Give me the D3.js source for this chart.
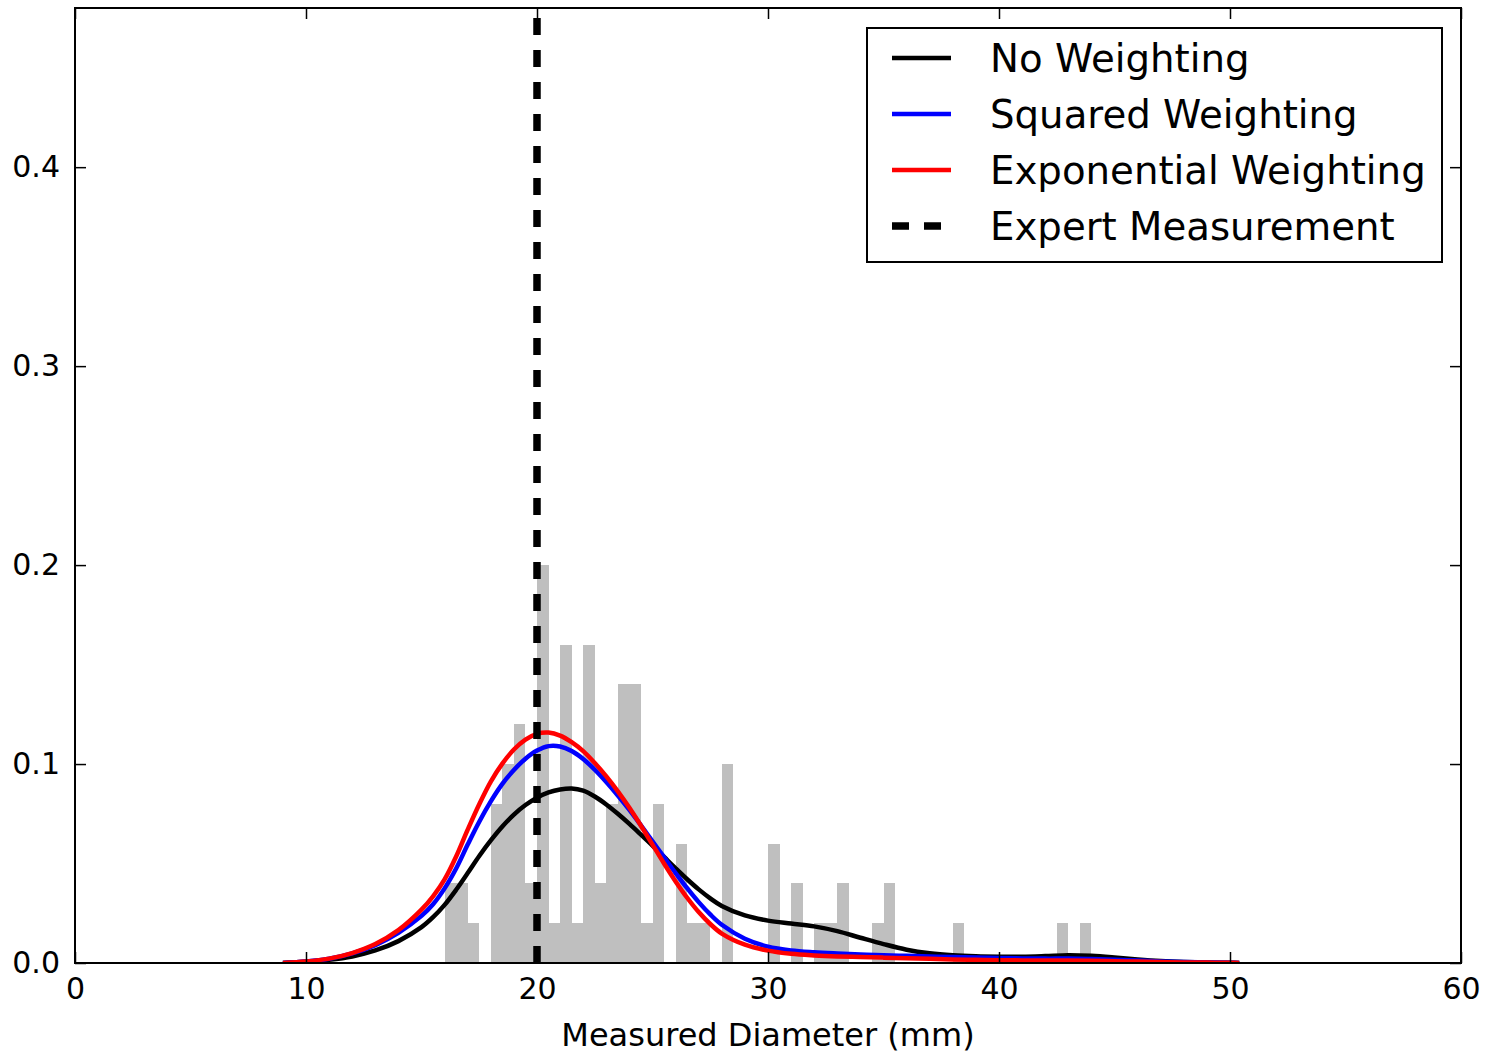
<!DOCTYPE html>
<meta charset="utf-8">
<style>
body {
  margin: 0;
  background-color: #ffffff;
}
text {
  font-family: "DejaVu Sans", sans-serif;
  fill: #000;
}
.axis path {
  display: none;
}
.axis line {
  stroke: #000;
  stroke-width: 1.5px;
}
.bar {
  fill: #bfbfbf;
  shape-rendering: crispEdges;
}
.curve {
  fill: none;
  stroke-width: 4.5px;
}
</style>
<svg class="chart" width="1491" height="1057"></svg>

<script src="https://cdn.jsdelivr.net/npm/d3@7/dist/d3.min.js"></script>
<script>
// histogram (density, bin width 0.5)
var binWidth = 0.5;
var binStart = [16, 16.5, 17, 17.5, 18, 18.5, 19, 19.5, 20, 20.5, 21, 21.5, 22, 22.5, 23, 23.5,
                24, 24.5, 25, 25.5, 26, 26.5, 27, 27.5, 28, 28.5, 29, 29.5, 30, 30.5, 31, 31.5,
                32, 32.5, 33, 33.5, 34, 34.5, 35, 35.5, 36, 36.5, 37, 37.5, 38, 38.5, 39, 39.5,
                40, 40.5, 41, 41.5, 42, 42.5, 43, 43.5];
var binDensity = [0.04, 0.04, 0.02, 0, 0.08, 0.10, 0.12, 0.04, 0.20, 0.02, 0.16, 0.02, 0.16, 0.04, 0.08, 0.14,
                  0.14, 0.02, 0.08, 0, 0.06, 0.02, 0.02, 0, 0.10, 0, 0, 0, 0.06, 0, 0.04, 0,
                  0.02, 0.02, 0.04, 0, 0, 0.02, 0.04, 0, 0, 0, 0, 0, 0.02, 0, 0, 0,
                  0, 0, 0, 0, 0, 0.02, 0, 0.02];

// density curves
var kdeX = [9, 10, 11, 12, 13, 14, 15, 15.5, 16, 16.5, 17, 17.5, 18, 18.5, 19, 19.5, 20, 20.5, 21, 21.5,
            22, 22.5, 23, 23.5, 24, 24.5, 25, 25.5, 26, 26.5, 27, 27.5, 28, 29, 30, 31, 32, 33, 34, 35,
            36, 37, 38, 39, 40, 41, 42, 43, 44, 45, 46, 47, 48, 49, 50, 50.4];
var noWeighting = [0, 0.0006, 0.0016, 0.0033, 0.0063, 0.0110, 0.0180, 0.0230, 0.0292, 0.0368, 0.0452, 0.0538, 0.0616, 0.0686, 0.0746, 0.0794, 0.0831, 0.0857, 0.0872, 0.0877,
                   0.0866, 0.0837, 0.0797, 0.0750, 0.0699, 0.0645, 0.0590, 0.0533, 0.0476, 0.0421, 0.0370, 0.0325, 0.0287, 0.0239, 0.0213, 0.0198, 0.0184, 0.0160, 0.0127, 0.0095,
                   0.0067, 0.0049, 0.0039, 0.0034, 0.0032, 0.0032, 0.0035, 0.0039, 0.0036, 0.0028, 0.0018, 0.0010, 0.0005, 0.0002, 0.0001, 0];
var squaredWeighting = [0, 0.0007, 0.0021, 0.0048, 0.0090, 0.0152, 0.0237, 0.0295, 0.0375, 0.0475, 0.0595, 0.0710, 0.0812, 0.0900, 0.0970, 0.1027, 0.1068, 0.1090, 0.1088, 0.1065,
                        0.1025, 0.0972, 0.0910, 0.0842, 0.0770, 0.0692, 0.0612, 0.0532, 0.0452, 0.0376, 0.0306, 0.0244, 0.0192, 0.0122, 0.0082, 0.0063, 0.0054, 0.0048, 0.0043, 0.0039,
                        0.0036, 0.0033, 0.0030, 0.0028, 0.0025, 0.0023, 0.0022, 0.0022, 0.0020, 0.0016, 0.0012, 0.0008, 0.0005, 0.0003, 0.0001, 0];
var expWeighting = [0, 0.0007, 0.0022, 0.0050, 0.0095, 0.0165, 0.0268, 0.0335, 0.0420, 0.0535, 0.0670, 0.0798, 0.0912, 0.1002, 0.1073, 0.1123, 0.1152, 0.1158, 0.1143, 0.1110,
                    0.1065, 0.1005, 0.0938, 0.0863, 0.0780, 0.0690, 0.0595, 0.0500, 0.0410, 0.0328, 0.0256, 0.0196, 0.0148, 0.0092, 0.0062, 0.0046, 0.0038, 0.0033, 0.0030, 0.0027,
                    0.0024, 0.0021, 0.0018, 0.0016, 0.0014, 0.0013, 0.0012, 0.0012, 0.0011, 0.0009, 0.0007, 0.0005, 0.0003, 0.0002, 0.0001, 0];

var expertValue = 20;

var xTicks = [0, 10, 20, 30, 40, 50, 60];
var yTicks = [0, 0.1, 0.2, 0.3, 0.4];
var legendNames = ["No Weighting", "Squared Weighting", "Exponential Weighting", "Expert Measurement"];
var legendColors = ["#000000", "#0000ff", "#ff0000", "#000000"];

var svg = d3.select(".chart"),
    margin = {top: 8, right: 30, bottom: 94, left: 75},
    width = 1491 - margin.left - margin.right,
    height = 1057 - margin.top - margin.bottom;

var x = d3.scaleLinear().domain([0, 60]).range([0, width]);
var y = d3.scaleLinear().domain([0, 0.48]).range([height, 0]);

var g = svg.append("g")
    .attr("transform", "translate(" + margin.left + "," + margin.top + ")");

svg.append("defs").append("clipPath")
    .attr("id", "plotClip")
  .append("rect")
    .attr("width", width)
    .attr("height", height);

var plot = g.append("g").attr("clip-path", "url(#plotClip)");

// histogram
var bins = binStart.map(function(d, i) { return {x0: d, x1: d + binWidth, v: binDensity[i]}; });
plot.selectAll(".bar")
    .data(bins.filter(function(d) { return d.v > 0; }))
  .enter().append("rect")
    .attr("class", "bar")
    .attr("x", function(d) { return x(d.x0); })
    .attr("width", function(d) { return x(d.x1) - x(d.x0); })
    .attr("y", function(d) { return y(d.v); })
    .attr("height", function(d) { return y(0) - y(d.v); });

// curves
var line = d3.line()
    .x(function(d) { return x(d[0]); })
    .y(function(d) { return y(d[1]); })
    .curve(d3.curveCatmullRom.alpha(0.5));

var series = [noWeighting, squaredWeighting, expWeighting];
series.forEach(function(s, k) {
  plot.append("path")
      .datum(kdeX.map(function(v, i) { return [v, s[i]]; }))
      .attr("class", "curve")
      .style("stroke", legendColors[k])
      .attr("d", line);
});

// expert measurement
plot.append("line")
    .attr("x1", x(expertValue))
    .attr("x2", x(expertValue))
    .attr("y1", y(0))
    .attr("y2", y(0.48))
    .style("stroke", "#000")
    .style("stroke-width", "7.5px")
    .style("stroke-dasharray", "17,15");

// axes (ticks inside, on all four sides)
g.append("g")
    .attr("class", "axis")
    .attr("transform", "translate(0," + height + ")")
    .call(d3.axisBottom(x).tickValues(xTicks).tickSizeInner(-11).tickSizeOuter(0).tickPadding(15))
    .selectAll("text").style("font-size", "30px");

g.append("g")
    .attr("class", "axis")
    .call(d3.axisTop(x).tickValues(xTicks).tickSizeInner(-11).tickSizeOuter(0).tickFormat(""));

g.append("g")
    .attr("class", "axis")
    .call(d3.axisLeft(y).tickValues(yTicks).tickSizeInner(-11).tickSizeOuter(0).tickPadding(15).tickFormat(d3.format(".1f")))
    .selectAll("text").style("font-size", "30px");

g.append("g")
    .attr("class", "axis")
    .attr("transform", "translate(" + width + ",0)")
    .call(d3.axisRight(y).tickValues(yTicks).tickSizeInner(-11).tickSizeOuter(0).tickFormat(""));

g.append("rect")
    .attr("width", width)
    .attr("height", height)
    .style("fill", "none")
    .style("stroke", "#000")
    .style("stroke-width", "2px");

g.append("text")
    .attr("x", width / 2)
    .attr("y", height + 83)
    .attr("text-anchor", "middle")
    .style("font-size", "32px")
    .text("Measured Diameter (mm)");

// legend
var legend = svg.append("g").attr("transform", "translate(867,28)");
legend.append("rect")
    .attr("width", 575)
    .attr("height", 234)
    .style("fill", "#fff")
    .style("stroke", "#000")
    .style("stroke-width", "2px");

var item = legend.selectAll(".item")
    .data(legendNames)
  .enter().append("g")
    .attr("class", "item")
    .attr("transform", function(d, i) { return "translate(0," + (30 + i * 56) + ")"; });

item.append("line")
    .attr("x1", 25)
    .attr("x2", 84)
    .style("stroke", function(d, i) { return legendColors[i]; })
    .style("stroke-width", function(d, i) { return i === 3 ? "7.5px" : "4.5px"; })
    .style("stroke-dasharray", function(d, i) { return i === 3 ? "17,15" : null; });

item.append("text")
    .attr("x", 123)
    .attr("dy", "0.36em")
    .style("font-size", "38.7px")
    .text(function(d) { return d; });
</script>
